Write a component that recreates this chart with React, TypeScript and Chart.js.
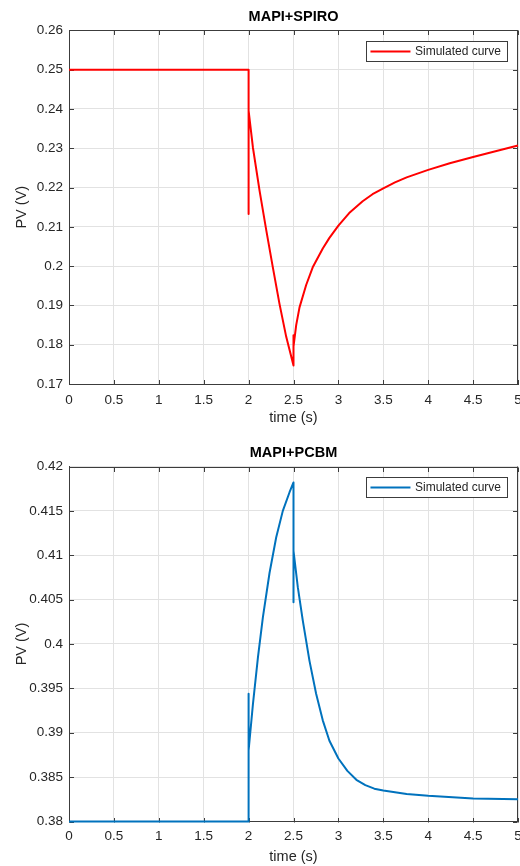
import React, { useEffect, useRef } from "react";
import { Chart, registerables } from "chart.js";

Chart.register(...registerables);

const FONT = "'Liberation Sans', Arial, Helvetica, sans-serif";

// Axis tick values
const xTicks = [0, 0.5, 1, 1.5, 2, 2.5, 3, 3.5, 4, 4.5, 5];
const spiroYTicks = [0.17, 0.18, 0.19, 0.2, 0.21, 0.22, 0.23, 0.24, 0.25, 0.26];
const pcbmYTicks = [0.38, 0.385, 0.39, 0.395, 0.4, 0.405, 0.41, 0.415, 0.42];

// MAPI+SPIRO simulated curve
const spiroTime = [0, 2, 2, 2, 2.048, 2.122, 2.197, 2.27, 2.344, 2.419, 2.5, 2.5, 2.5, 2.53, 2.567, 2.641, 2.714, 2.826, 2.9, 3.0, 3.12, 3.27, 3.38, 3.5, 3.63, 3.76, 4.0, 4.24, 4.5, 4.76, 5.0];
const spiroPV = [0.25, 0.25, 0.2133, 0.2396, 0.2302, 0.2192, 0.2091, 0.1997, 0.1904, 0.182, 0.1747, 0.1824, 0.1795, 0.185, 0.1895, 0.1952, 0.1997, 0.2045, 0.2072, 0.2103, 0.2135, 0.2165, 0.2183, 0.2198, 0.2213, 0.2226, 0.2245, 0.2262, 0.2278, 0.2293, 0.2307];

// MAPI+PCBM simulated curve
const pcbmTime = [0, 2, 2, 2, 2.048, 2.104, 2.159, 2.233, 2.307, 2.381, 2.456, 2.5, 2.5, 2.5, 2.548, 2.604, 2.678, 2.752, 2.826, 2.9, 3.0, 3.1, 3.2, 3.3, 3.4, 3.5, 3.76, 4.0, 4.5, 5.0];
const pcbmPV = [0.38, 0.38, 0.3944, 0.388, 0.3932, 0.3985, 0.403, 0.408, 0.412, 0.415, 0.4171, 0.4182, 0.4047, 0.4105, 0.4064, 0.4026, 0.3981, 0.3944, 0.3914, 0.3891, 0.3871, 0.3857, 0.3847, 0.3841, 0.3837, 0.3835, 0.3831, 0.3829, 0.3826, 0.3825];

const AXIS_COLOR = "#3c3c3c";
const GRID_COLOR = "#e2e2e2";
const TEXT_COLOR = "#262626";

const boxPlugin = {
  id: "matlabBox",
  beforeDatasetsDraw(chart: any) {
    const { ctx, chartArea: a, scales } = chart;
    const L = 4.5;
    ctx.save();
    ctx.strokeStyle = AXIS_COLOR;
    ctx.lineWidth = 1;
    ctx.beginPath();
    const top = Math.round(a.top) + 0.5;
    const bottom = Math.round(a.bottom) + 0.5;
    const left = Math.round(a.left) + 0.5;
    const right = Math.round(a.right) - 0.5;
    ctx.moveTo(a.left, top);
    ctx.lineTo(a.right, top);
    ctx.moveTo(right, a.top);
    ctx.lineTo(right, a.bottom);
    scales.x.ticks.forEach((t: any) => {
      const px = Math.round(scales.x.getPixelForValue(t.value)) + 0.5;
      ctx.moveTo(px, bottom);
      ctx.lineTo(px, bottom - L);
      ctx.moveTo(px, top);
      ctx.lineTo(px, top + L);
    });
    scales.y.ticks.forEach((t: any) => {
      const py = Math.round(scales.y.getPixelForValue(t.value)) + 0.5;
      ctx.moveTo(left, py);
      ctx.lineTo(left + L, py);
      ctx.moveTo(right, py);
      ctx.lineTo(right - L, py);
    });
    ctx.stroke();
    ctx.restore();
  },
};

const legendPlugin = {
  id: "insideLegend",
  afterDatasetsDraw(chart: any) {
    const ds = chart.data.datasets[0];
    const { ctx, chartArea: a } = chart;
    ctx.save();
    ctx.font = `12px ${FONT}`;
    const tw = ctx.measureText(ds.label).width;
    const right = Math.round(a.right - 11.5);
    const top = Math.round(a.top + 10.5);
    const h = 20;
    const lineLen = 40;
    const textLeft = right - 6 - tw;
    const lineRight = textLeft - 4.5;
    const lineLeft = lineRight - lineLen;
    const left = Math.round(lineLeft - 4);
    ctx.fillStyle = "#ffffff";
    ctx.fillRect(left, top, right - left, h);
    ctx.strokeStyle = AXIS_COLOR;
    ctx.lineWidth = 1;
    ctx.strokeRect(left + 0.5, top + 0.5, right - left, h);
    ctx.strokeStyle = ds.borderColor;
    ctx.lineWidth = 2;
    ctx.beginPath();
    ctx.moveTo(lineLeft, top + h / 2 + 0.5);
    ctx.lineTo(lineRight, top + h / 2 + 0.5);
    ctx.stroke();
    ctx.fillStyle = TEXT_COLOR;
    ctx.textBaseline = "middle";
    ctx.textAlign = "left";
    ctx.fillText(ds.label, textLeft, top + h / 2 + 1);
    ctx.restore();
  },
};

const fmt = (v: any) => String(Number(Number(v).toFixed(4)));

function makeConfig(opts: {
  title: string;
  time: number[];
  pv: number[];
  color: string;
  yTicks: number[];
  titlePad: { top: number; bottom: number };
  xHeight: number;
  xTickPad: number;
  xTitlePad: number;
}): any {
  const yMin = opts.yTicks[0];
  const yMax = opts.yTicks[opts.yTicks.length - 1];
  return {
    type: "line",
    data: {
      datasets: [
        {
          label: "Simulated curve",
          data: opts.time.map((t, i) => ({ x: t, y: opts.pv[i] })),
          borderColor: opts.color,
          backgroundColor: opts.color,
          borderWidth: 2,
          pointRadius: 0,
          tension: 0,
          borderJoinStyle: "round",
          clip: 3,
        },
      ],
    },
    options: {
      animation: false,
      responsive: false,
      devicePixelRatio: 1,
      layout: { padding: { left: 0, right: 2, top: 0, bottom: 0 } },
      plugins: {
        legend: { display: false },
        tooltip: { enabled: false },
        title: {
          display: true,
          text: opts.title,
          fullSize: false,
          color: "#000000",
          font: { family: FONT, size: 14.5, weight: "bold", lineHeight: 1.2 },
          padding: opts.titlePad,
        },
      },
      scales: {
        x: {
          type: "linear",
          min: 0,
          max: 5,
          afterBuildTicks: (s: any) => {
            s.ticks = xTicks.map((v) => ({ value: v }));
          },
          afterFit: (s: any) => {
            s.height = opts.xHeight;
            s.paddingLeft = 0;
            s.paddingRight = 0;
          },
          ticks: {
            callback: fmt,
            autoSkip: false,
            maxRotation: 0,
            color: TEXT_COLOR,
            font: { family: FONT, size: 13.5, lineHeight: 1.2 },
            padding: opts.xTickPad,
          },
          grid: { color: GRID_COLOR, drawTicks: false, lineWidth: 1 },
          border: { display: true, color: AXIS_COLOR, width: 1 },
          title: {
            display: true,
            text: "time (s)",
            color: TEXT_COLOR,
            font: { family: FONT, size: 14.5, lineHeight: 1.2 },
            padding: { top: 0, bottom: opts.xTitlePad },
          },
        },
        y: {
          type: "linear",
          min: yMin,
          max: yMax,
          afterBuildTicks: (s: any) => {
            s.ticks = opts.yTicks.map((v) => ({ value: v }));
          },
          afterFit: (s: any) => {
            s.width = 69;
          },
          ticks: {
            callback: fmt,
            autoSkip: false,
            color: TEXT_COLOR,
            font: { family: FONT, size: 13.5, lineHeight: 1.2 },
            padding: 6,
          },
          grid: { color: GRID_COLOR, drawTicks: false, lineWidth: 1 },
          border: { display: true, color: AXIS_COLOR, width: 1 },
          title: {
            display: true,
            text: "PV (V)",
            color: TEXT_COLOR,
            font: { family: FONT, size: 14.5, lineHeight: 1.2 },
            padding: { top: 13.3, bottom: 0 },
          },
        },
      },
    },
    plugins: [boxPlugin, legendPlugin],
  };
}

function Plot({ config, height }: { config: any; height: number }) {
  const ref = useRef<HTMLCanvasElement>(null);
  useEffect(() => {
    const chart = new Chart(ref.current as HTMLCanvasElement, config);
    return () => chart.destroy();
  }, [config]);
  return (
    <canvas
      ref={ref}
      width={520}
      height={height}
      style={{ display: "block", width: 520, height }}
    />
  );
}

const topConfig = makeConfig({
  title: "MAPI+SPIRO",
  time: spiroTime,
  pv: spiroPV,
  color: "#ff0000",
  yTicks: spiroYTicks,
  titlePad: { top: 8, bottom: 5 },
  xHeight: 49,
  xTickPad: 8,
  xTitlePad: 6.3,
});

const bottomConfig = makeConfig({
  title: "MAPI+PCBM",
  time: pcbmTime,
  pv: pcbmPV,
  color: "#0072bd",
  yTicks: pcbmYTicks,
  titlePad: { top: 11.6, bottom: 4.5 },
  xHeight: 44.5,
  xTickPad: 7,
  xTitlePad: 0.6,
});

export default function App() {
  return (
    <div
      style={{
        position: "absolute",
        left: 0,
        top: 0,
        width: 520,
        height: 866,
        background: "#ffffff",
        overflow: "hidden",
      }}
    >
      <Plot config={topConfig} height={433} />
      <Plot config={bottomConfig} height={433} />
    </div>
  );
}
